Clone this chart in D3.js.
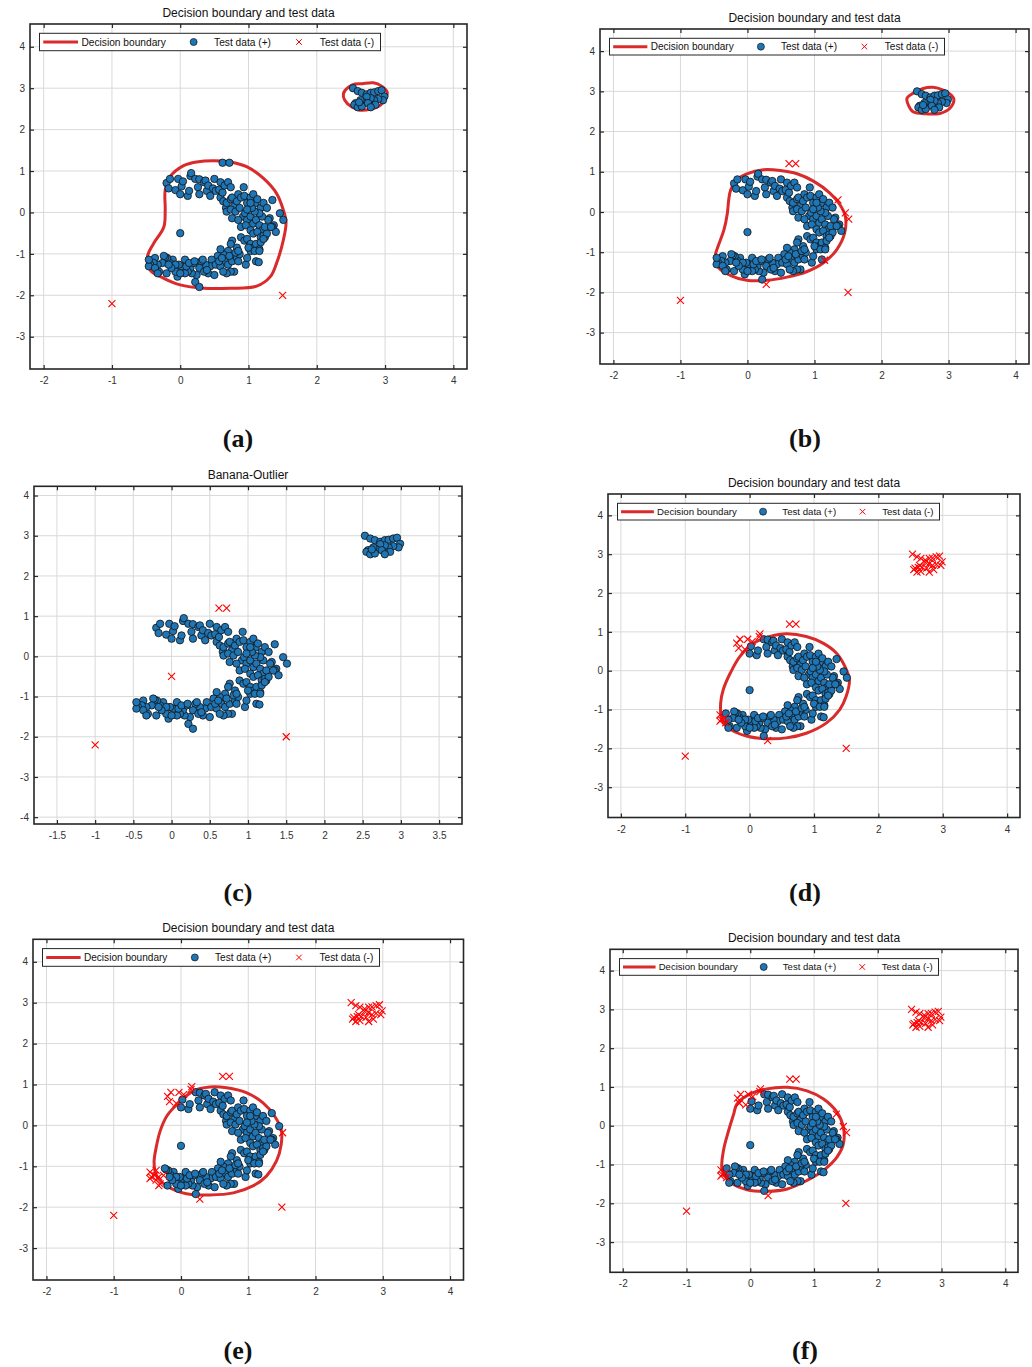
<!DOCTYPE html>
<html>
<head>
<meta charset="utf-8">
<script src="https://cdn.jsdelivr.net/npm/d3@7"></script>
<style>
  body { margin: 0; background: #fff; }
  svg { display: block; }
</style>
</head>
<body>
<script>
// banana test data (+)
const banana = [
  [-0.20,0.71],[-0.15,0.81],[-0.17,0.58],[-0.07,0.54],[-0.03,0.81],[0.02,0.63],[0.00,0.44],[0.04,0.75],
  [0.11,0.40],[0.13,0.52],[0.15,0.88],[0.16,0.95],[0.22,0.81],[0.26,0.61],[0.28,0.80],[0.28,0.44],
  [0.35,0.73],[0.37,0.77],[0.39,0.52],[0.41,0.65],[0.44,0.40],[0.48,0.58],[0.50,0.81],[0.52,0.52],
  [0.57,0.55],[0.59,0.73],[0.59,0.36],[0.62,0.48],[0.65,0.65],[0.70,0.73],[0.74,0.61],
  [0.63,0.27],[0.67,0.11],[0.68,0.23],[0.74,0.32],[0.76,0.36],[0.79,0.15],[0.83,0.27],[0.85,0.44],
  [0.89,0.36],[0.93,0.61],[0.94,0.40],[0.98,0.23],[1.03,0.36],[1.07,0.44],[1.10,0.22],[1.13,0.32],
  [1.18,0.11],[1.22,0.23],[1.27,0.11],[1.31,-0.14],[1.35,0.30],[1.37,-0.31],[1.46,-0.02],[1.51,-0.18],
  [0.68,0.02],[0.74,0.07],[0.81,0.02],[0.87,0.11],[0.92,-0.10],[0.95,-0.02],[0.98,-0.18],[1.03,-0.10],
  [1.07,-0.27],[1.11,-0.18],[1.16,-0.31],[1.20,-0.43],[1.24,-0.60],[0.76,-0.14],[0.85,-0.18],[0.89,-0.35],
  [0.96,-0.31],[1.03,-0.43],[1.07,-0.51],[1.13,-0.47],[1.18,-0.60],[1.22,-0.56],[1.27,-0.51],[1.35,-0.35],
  [1.40,-0.47],[0.89,-0.60],[0.94,-0.68],[0.98,-0.64],[1.03,-0.76],[1.07,-0.85],[1.11,-0.76],[1.16,-0.89],
  [1.18,-0.72],[1.22,-0.64],[1.24,-0.35],[1.29,-0.18],[1.33,-0.35],[1.20,-0.10],[1.16,-0.02],[1.09,0.02],
  [1.05,0.11],[0.98,0.07],[1.03,0.23],
  [0.83,-0.85],[0.76,-0.68],[0.74,-0.76],[0.70,-0.93],[0.63,-1.01],[0.59,-0.89],[0.55,-1.05],[0.65,-1.18],
  [0.70,-1.26],[0.76,-1.18],[0.79,-1.43],[0.74,-1.43],[0.83,-1.10],[0.87,-1.01],[0.96,-1.26],[1.03,-0.93],
  [1.11,-1.18],[1.15,-1.20],[0.98,-1.10],[0.85,-1.18],[0.46,-1.14],[0.44,-1.30],[0.41,-1.47],[0.50,-1.51],
  [0.52,-1.26],[0.59,-1.30],[0.37,-1.26],[0.31,-1.18],[0.28,-1.34],[0.24,-1.51],[0.22,-1.68],[0.28,-1.80],
  [0.17,-1.47],[0.15,-1.34],[0.11,-1.43],[0.09,-1.22],[0.07,-1.14],[0.02,-1.30],[-0.02,-1.26],[-0.04,-1.55],
  [-0.07,-1.43],[-0.11,-1.14],[-0.15,-1.22],[-0.19,-1.10],[-0.22,-1.08],[-0.24,-1.05],[-0.26,-1.22],[-0.20,-1.47],
  [-0.31,-1.43],[-0.33,-1.26],[-0.37,-1.10],[-0.39,-1.22],[-0.44,-1.26],[-0.46,-1.30],[-0.46,-1.14],[-0.37,-1.34],
  [-0.33,-1.47],[0.20,-1.22],[0.33,-1.14],[0.35,-1.43],[0.07,-1.47],[0.00,-1.47],[-0.07,-1.26],[-0.13,-1.34],
  [-0.17,-1.26],[0.68,-1.47],[0.63,-1.43],[0.09,-1.30],[0.13,-1.22],[0.21,-1.18],[0.39,-1.39],[0.57,-1.18],
  [0.61,-1.10],[0.72,-1.05],[0.81,-0.97],[0.85,-0.93],[1.00,-0.85],[1.09,-0.93],[1.16,-0.93]
];
// the small group top right
const cluster = [
  [2.53,3.00],[2.60,2.93],[2.66,2.89],[2.73,2.85],[2.79,2.89],[2.84,2.90],[2.90,2.93],[2.95,2.95],
  [2.99,2.80],[2.97,2.71],[2.90,2.74],[2.84,2.71],[2.79,2.76],[2.73,2.79],[2.68,2.66],[2.64,2.71],
  [2.57,2.64],[2.55,2.60],[2.60,2.54],[2.66,2.56],[2.75,2.64],[2.86,2.60],[2.79,2.54],[2.62,2.66]
];
const farOut = [[-1,-2.2],[1.5,-2]];
const topOut = [[0.62,1.2],[0.72,1.2]];
const midOut = [[0,-0.5]];

// banana points predicted (-) in each model
const rejRight = [[1.35,0.30],[1.46,-0.02],[1.51,-0.18]];
const rejB = [[1.35,0.30],[1.46,-0.02],[1.51,-0.18],[1.15,-1.20],[0.28,-1.80]];
const rejUL = [[-0.20,0.71],[-0.15,0.81],[-0.17,0.58],[-0.07,0.54],[-0.03,0.81],[0.04,0.75],[0.15,0.88],[0.16,0.95]];
const rejLL = [[-0.46,-1.14],[-0.44,-1.26],[-0.46,-1.30],[-0.39,-1.22],[-0.37,-1.34]];
const rejLLe = [[-0.37,-1.10],[-0.33,-1.26],[-0.31,-1.43],[-0.33,-1.47],[-0.26,-1.22]];
const rejBottom = [[0.28,-1.80]];

// decision boundaries
const bndA = [[0.49,1.25],[0.73,1.22],[0.98,1.10],[1.22,0.82],[1.41,0.46],[1.51,0.06],[1.55,-0.23],[1.51,-0.67],
  [1.41,-1.23],[1.32,-1.55],[1.12,-1.78],[0.73,-1.83],[0.34,-1.83],[0.00,-1.75],[-0.24,-1.59],[-0.44,-1.39],
  [-0.48,-1.07],[-0.39,-0.75],[-0.24,-0.35],[-0.22,0.06],[-0.22,0.54],[-0.15,0.86],[0.05,1.13],[0.24,1.22]];
const loopA = [[2.66,3.11],[2.83,3.13],[2.95,3.05],[3.03,2.91],[3.01,2.75],[2.93,2.59],[2.78,2.49],[2.63,2.47],
  [2.51,2.55],[2.41,2.71],[2.39,2.87],[2.46,3.02],[2.56,3.10]];
const bndB = [[-0.25,0.55],[-0.16,0.80],[-0.01,0.95],[0.24,1.05],[0.49,1.03],[0.74,0.95],[0.99,0.76],[1.23,0.47],
  [1.38,0.18],[1.46,-0.11],[1.45,-0.52],[1.33,-0.94],[1.13,-1.27],[0.89,-1.48],[0.59,-1.62],[0.29,-1.70],
  [-0.01,-1.70],[-0.25,-1.58],[-0.43,-1.39],[-0.48,-1.10],[-0.44,-0.86],[-0.35,-0.44],[-0.30,-0.03],[-0.28,0.30]];
const loopB = [[2.62,3.07],[2.77,3.10],[2.92,3.03],[3.04,2.91],[3.08,2.80],[3.02,2.58],[2.87,2.45],[2.67,2.44],
  [2.47,2.49],[2.40,2.66],[2.38,2.83],[2.47,2.95]];
const bndD = [[-0.15,0.37],[0.06,0.71],[0.32,0.88],[0.57,0.95],[0.88,0.88],[1.14,0.71],[1.35,0.45],[1.48,0.11],
  [1.55,-0.23],[1.50,-0.66],[1.40,-1.00],[1.19,-1.35],[0.88,-1.61],[0.57,-1.73],[0.26,-1.75],[-0.05,-1.68],
  [-0.30,-1.51],[-0.43,-1.26],[-0.45,-0.83],[-0.41,-0.49],[-0.30,-0.06]];
const bndE = [[-0.06,0.51],[0.18,0.84],[0.43,0.94],[0.68,0.92],[0.97,0.80],[1.22,0.55],[1.39,0.23],[1.49,-0.10],
  [1.49,-0.46],[1.42,-0.87],[1.27,-1.24],[1.07,-1.48],[0.78,-1.65],[0.43,-1.70],[0.08,-1.67],[-0.21,-1.48],
  [-0.36,-1.24],[-0.40,-0.91],[-0.37,-0.55],[-0.31,-0.14],[-0.21,0.23]];
const bndF = [[-0.21,0.56],[0.00,0.82],[0.26,0.95],[0.58,0.99],[0.89,0.90],[1.15,0.69],[1.36,0.35],[1.46,-0.04],
  [1.46,-0.47],[1.36,-0.81],[1.15,-1.15],[0.89,-1.41],[0.58,-1.63],[0.26,-1.69],[-0.05,-1.65],[-0.31,-1.46],
  [-0.44,-1.16],[-0.42,-0.64],[-0.34,-0.13],[-0.26,0.30]];

const xTicks = [-2, -1, 0, 1, 2, 3, 4];
const yTicks = [-3, -2, -1, 0, 1, 2, 3, 4];
const xTicksC = [-1.5, -1, -0.5, 0, 0.5, 1, 1.5, 2, 2.5, 3, 3.5];
const yTicksC = [-4, -3, -2, -1, 0, 1, 2, 3, 4];
const titleMain = 'Decision boundary and test data';
const legendLabels = ['Decision boundary', 'Test data (+)', 'Test data (-)'];

const key = p => p[0] + ',' + p[1];
function without(arr, rem) {
  const s = new Set(rem.map(key));
  return arr.filter(p => !s.has(key(p)));
}

const XD = [-2.2, 4.2], YD = [-3.78, 4.55];
const panels = [
  { tag: '(a)', l: 30, r: 467, t: 24, b: 369, xd: XD, yd: YD, xt: xTicks, yt: yTicks, title: titleMain,
    legW: 341, legH: 17.4, bnd: [bndA, loopA],
    pos: banana.concat(cluster, topOut, midOut), neg: farOut, lx: 238, ly: 447 },
  { tag: '(b)', l: 600, r: 1029, t: 29, b: 364, xd: XD, yd: YD, xt: xTicks, yt: yTicks, title: titleMain,
    legW: 335, legH: 16.7, bnd: [bndB, loopB],
    pos: without(banana, rejB).concat(cluster, midOut), neg: farOut.concat(topOut, rejB), lx: 805, ly: 447 },
  { tag: '(c)', l: 34, r: 462, t: 486.3, b: 824, xd: [-1.8, 3.8], yd: [-4.17, 4.23], xt: xTicksC, yt: yTicksC,
    title: 'Banana-Outlier', legW: 0, bnd: [],
    pos: banana.concat(cluster), neg: farOut.concat(topOut, midOut), lx: 238, ly: 901 },
  { tag: '(d)', l: 608, r: 1020, t: 494, b: 817.5, xd: XD, yd: YD, xt: xTicks, yt: yTicks, title: titleMain,
    legW: 322, legH: 16.7, bnd: [bndD],
    pos: without(banana, rejUL.concat(rejLL, rejBottom)).concat(midOut),
    neg: farOut.concat(topOut, cluster, rejUL, rejLL, rejBottom), lx: 805, ly: 901 },
  { tag: '(e)', l: 33, r: 463.5, t: 939.3, b: 1280, xd: XD, yd: YD, xt: xTicks, yt: yTicks, title: titleMain,
    legW: 337, legH: 17.7, bnd: [bndE],
    pos: without(banana, rejUL.concat(rejLL, rejLLe, rejBottom, [[1.51,-0.18]])).concat(midOut),
    neg: farOut.concat(topOut, cluster, rejUL, rejLL, rejLLe, rejBottom, [[1.51,-0.18]]), lx: 238, ly: 1359 },
  { tag: '(f)', l: 610, r: 1018, t: 949.3, b: 1272.3, xd: XD, yd: YD, xt: xTicks, yt: yTicks, title: titleMain,
    legW: 319, legH: 16.7, bnd: [bndF],
    pos: without(banana, rejUL.concat(rejLL, rejRight, rejBottom)).concat(midOut),
    neg: farOut.concat(topOut, cluster, rejUL, rejLL, rejRight, rejBottom), lx: 805, ly: 1359 }
];

const W = 1032, H = 1367;
const RED = '#d92b2b', BLUE = '#1f76b6', CROSS = '#ff0000', INK = '#262626';
const svg = d3.select('body').append('svg').attr('width', W).attr('height', H)
  .style('font-family', 'Liberation Sans, Arial, sans-serif');

const crossPath = s => `M${-s},${-s}L${s},${s}M${-s},${s}L${s},${-s}`;
const fmt = d => String(d);

panels.forEach((p, i) => {
  const x = d3.scaleLinear().domain(p.xd).range([p.l, p.r]);
  const y = d3.scaleLinear().domain(p.yd).range([p.b, p.t]);
  const g = svg.append('g');

  g.append('rect').attr('x', p.l).attr('y', p.t).attr('width', p.r - p.l).attr('height', p.b - p.t).attr('fill', '#fff');

  // grid
  g.append('g').selectAll('line').data(p.xt).join('line')
    .attr('x1', d => x(d)).attr('x2', d => x(d)).attr('y1', p.t).attr('y2', p.b)
    .attr('stroke', '#d9d9d9').attr('stroke-width', 1);
  g.append('g').selectAll('line').data(p.yt).join('line')
    .attr('y1', d => y(d)).attr('y2', d => y(d)).attr('x1', p.l).attr('x2', p.r)
    .attr('stroke', '#d9d9d9').attr('stroke-width', 1);

  const clipId = 'clip' + i;
  g.append('clipPath').attr('id', clipId).append('rect')
    .attr('x', p.l).attr('y', p.t).attr('width', p.r - p.l).attr('height', p.b - p.t);
  const plot = g.append('g').attr('clip-path', `url(#${clipId})`);

  const line = d3.line().x(d => x(d[0])).y(d => y(d[1])).curve(d3.curveCatmullRomClosed.alpha(0.5));
  p.bnd.forEach(b => {
    plot.append('path').attr('d', line(b)).attr('fill', 'none')
      .attr('stroke', RED).attr('stroke-width', 3);
  });

  plot.append('g').selectAll('circle').data(p.pos).join('circle')
    .attr('cx', d => x(d[0])).attr('cy', d => y(d[1])).attr('r', 3.7)
    .attr('fill', BLUE).attr('stroke', '#111').attr('stroke-width', 0.8);

  plot.append('g').selectAll('path').data(p.neg).join('path')
    .attr('transform', d => `translate(${x(d[0])},${y(d[1])})`)
    .attr('d', crossPath(3.5)).attr('fill', 'none').attr('stroke', CROSS).attr('stroke-width', 1.1);

  // axes: ticks inside on all four sides
  const ax = (a, tr, vals, lab) => {
    const s = g.append('g').attr('transform', tr)
      .call(a.tickValues(vals).tickSize(-4).tickPadding(lab ? 8 : 0).tickFormat(lab ? fmt : ''));
    s.select('.domain').remove();
    s.selectAll('line').attr('stroke', INK).attr('stroke-width', 1.2);
    s.selectAll('text').attr('fill', '#333').style('font-size', '10px').style('font-family', 'Liberation Sans, Arial, sans-serif');
    return s;
  };
  ax(d3.axisBottom(x), `translate(0,${p.b})`, p.xt, true);
  ax(d3.axisTop(x), `translate(0,${p.t})`, p.xt, false);
  ax(d3.axisLeft(y), `translate(${p.l},0)`, p.yt, true).selectAll('text').attr('x', -5);
  ax(d3.axisRight(y), `translate(${p.r},0)`, p.yt, false);

  g.append('rect').attr('x', p.l).attr('y', p.t).attr('width', p.r - p.l).attr('height', p.b - p.t)
    .attr('fill', 'none').attr('stroke', INK).attr('stroke-width', 1.6);

  g.append('text').attr('x', (p.l + p.r) / 2).attr('y', p.t - 7).attr('text-anchor', 'middle')
    .attr('fill', '#111').style('font-size', '12px').text(p.title);

  if (p.legW) {
    const k = p.legW / 341, lx = p.l + 9.5, ly = p.t + 9.3, cy = ly + p.legH / 2;
    const lg = g.append('g');
    lg.append('rect').attr('x', lx).attr('y', ly).attr('width', p.legW).attr('height', p.legH)
      .attr('fill', '#fff').attr('stroke', INK).attr('stroke-width', 1);
    lg.append('line').attr('x1', lx + 0.011 * p.legW).attr('x2', lx + 0.113 * p.legW)
      .attr('y1', cy).attr('y2', cy).attr('stroke', RED).attr('stroke-width', 3);
    lg.append('circle').attr('cx', lx + 0.452 * p.legW).attr('cy', cy).attr('r', 3.5)
      .attr('fill', BLUE).attr('stroke', '#111').attr('stroke-width', 0.7);
    lg.append('path').attr('transform', `translate(${lx + 0.761 * p.legW},${cy})`)
      .attr('d', crossPath(2.8)).attr('stroke', CROSS).attr('stroke-width', 1);
    [0.123, 0.512, 0.822].forEach((f, j) => {
      lg.append('text').attr('x', lx + f * p.legW).attr('y', cy).attr('dy', '0.35em')
        .attr('fill', '#111').style('font-size', (10.2 * k).toFixed(2) + 'px').text(legendLabels[j]);
    });
  }

  svg.append('text').attr('x', p.lx).attr('y', p.ly).attr('text-anchor', 'middle')
    .style('font-family', 'Liberation Serif, DejaVu Serif, serif').style('font-weight', 'bold')
    .style('font-size', '26px').attr('fill', '#111').text(p.tag);
});
</script>
</body>
</html>
